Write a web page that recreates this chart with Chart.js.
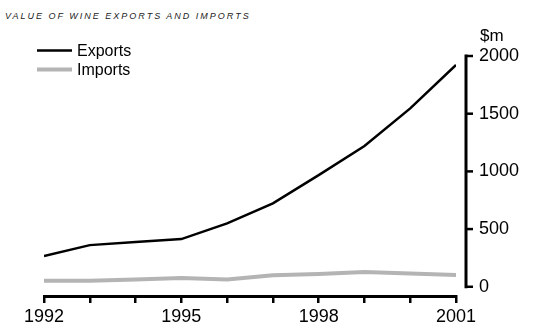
<!DOCTYPE html>
<html><head><meta charset="utf-8">
<script src="https://cdn.jsdelivr.net/npm/chart.js@4/dist/chart.umd.min.js"></script>
<style>
html,body{margin:0;padding:0;background:#fff;}
#wrap{position:relative;width:547px;height:336px;overflow:hidden;}
#title{position:absolute;left:5px;top:11px;font:italic 9px "Liberation Sans",Arial,sans-serif;letter-spacing:2px;color:#222;white-space:nowrap;}
canvas{position:absolute;left:0;top:0;}
</style></head><body>
<div id="wrap"><div id="title">VALUE OF WINE EXPORTS AND IMPORTS</div><canvas id="c" width="547" height="336"></canvas></div>
<script>
const years = [1992,1993,1994,1995,1996,1997,1998,1999,2000,2001];
const exportsValues = [266,361,388,413,550,723,968,1220,1546,1922];
const importsValues = [52,52,64,75,64,99,110,127,116,101];
const yTickValues = [0,500,1000,1500,2000];
const xLabelYears = [1992,1995,1998,2001];
const seriesNames = ['Exports','Imports'];
const unitLabel = '$m';

const FONT = '"Liberation Sans", Arial, sans-serif';

const axisPlugin = {
  id: 'axisPlugin',
  afterDraw(chart) {
    const ctx = chart.ctx;
    const y = chart.scales.y;
    const axX = 466;
    ctx.save();
    ctx.strokeStyle = '#000';
    ctx.lineWidth = 3;
    ctx.lineCap = 'butt';
    ctx.beginPath();
    const top = y.getPixelForValue(yTickValues[yTickValues.length-1]);
    const bot = y.getPixelForValue(yTickValues[0]);
    ctx.moveTo(axX, top - 1.5);
    ctx.lineTo(axX, bot + 1.5);
    ctx.stroke();
    ctx.lineWidth = 2.5;
    yTickValues.forEach(v => {
      const py = y.getPixelForValue(v);
      ctx.beginPath();
      ctx.moveTo(axX, py);
      ctx.lineTo(axX + 7, py);
      ctx.stroke();
    });
    // unit label
    ctx.fillStyle = '#000';
    ctx.font = '17px ' + FONT;
    ctx.textAlign = 'left';
    ctx.textBaseline = 'middle';
    ctx.fillText(unitLabel, 480, top - 20);
    // legend
    const ds = chart.data.datasets;
    ds.forEach((d, i) => {
      const ly = 50.5 + i * 19;
      ctx.strokeStyle = d.borderColor;
      ctx.lineWidth = d.borderWidth;
      ctx.beginPath();
      ctx.moveTo(37, ly);
      ctx.lineTo(72, ly);
      ctx.stroke();
      ctx.fillStyle = '#000';
      ctx.font = '16px ' + FONT;
      ctx.textBaseline = 'middle';
      ctx.fillText(d.label, 77, ly + 1);
    });
    ctx.restore();
  }
};

new Chart(document.getElementById('c'), {
  type: 'line',
  data: {
    datasets: [
      { label: seriesNames[0], data: years.map((yr, i) => ({x: yr, y: exportsValues[i]})), borderColor: '#000', borderWidth: 2.5, pointRadius: 0, tension: 0 },
      { label: seriesNames[1], data: years.map((yr, i) => ({x: yr, y: importsValues[i]})), borderColor: '#b4b4b4', borderWidth: 4, pointRadius: 0, tension: 0 }
    ]
  },
  options: {
    responsive: false,
    animation: false,
    devicePixelRatio: 1,
    layout: { padding: { left: 44, top: 56, right: 0, bottom: 0 } },
    plugins: { legend: { display: false }, tooltip: { enabled: false } },
    scales: {
      x: {
        type: 'linear', position: 'bottom', min: years[0], max: years[years.length-1],
        afterBuildTicks: s => { s.ticks = years.map(v => ({value: v})); },
        afterFit: s => { s.height = 40; },
        grid: { display: true, drawOnChartArea: false, drawTicks: true, tickLength: 7, color: '#000', lineWidth: 2.5 },
        border: { display: true, color: '#000', width: 3 },
        ticks: { autoSkip: false, maxRotation: 0, padding: 3, color: '#000', font: { family: FONT, size: 18 },
          callback: v => xLabelYears.includes(v) ? String(v) : '' }
      },
      y: {
        type: 'linear', position: 'right', min: -80, max: 2000,
        afterBuildTicks: s => { s.ticks = yTickValues.map(v => ({value: v})); },
        afterFit: s => { s.width = 91; },
        grid: { display: false, drawTicks: false },
        border: { display: false },
        ticks: { padding: 23, color: '#000', font: { family: FONT, size: 18 }, callback: v => String(v) }
      }
    }
  },
  plugins: [axisPlugin]
});
</script>
</body></html>
